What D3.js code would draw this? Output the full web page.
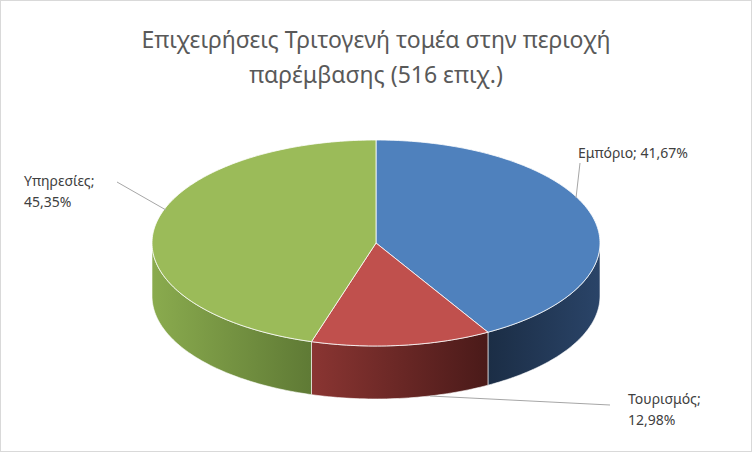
<!DOCTYPE html>
<html><head><meta charset="utf-8">
<script src="https://cdn.jsdelivr.net/npm/d3@7"></script>
<style>body{margin:0;background:#fff}</style>
</head><body>
<svg id="c" width="752" height="452"></svg>
<script>
var categories = ["Εμπόριο", "Τουρισμός", "Υπηρεσίες"];
var values = [41.67, 12.98, 45.35];
var valueLabels = ["41,67%", "12,98%", "45,35%"];
var titleLines = ["Επιχειρήσεις Τριτογενή τομέα στην περιοχή", "παρέμβασης (516 επιχ.)"];

var topColors = ["#4f81bd", "#c0504d", "#9bbb59"];
var sideDark = ["#1b2d45", "#4a1a19", "#5f7a35"];
var sideLight = ["#2a4468", "#8a3532", "#8aab4e"];

var svg = d3.select("#c");
svg.append("rect").attr("x", 0.5).attr("y", 0.5).attr("width", 751).attr("height", 451)
  .attr("fill", "#fff").attr("stroke", "#d9d9d9");

svg.append("text").attr("x", 376).attr("text-anchor", "middle")
  .attr("font-family", "Noto Sans").attr("font-size", 23).attr("fill", "#595959")
  .selectAll("tspan").data(titleLines).enter().append("tspan")
  .attr("x", 376).attr("y", function(d, i) { return 48 + i * 35; }).text(function(d) { return d; });

var cx = 376, cy = 243, rx = 224, ry = 103, depth = 53;
var pie = d3.pie().sort(null).startAngle(0).endAngle(2 * Math.PI);
var arcs = pie(values);

function pt(a, dy) { return [cx + rx * Math.sin(a), cy - ry * Math.cos(a) + (dy || 0)]; }
function arcPts(a0, a1, dy) {
  var n = Math.max(2, Math.ceil(Math.abs(a1 - a0) / 0.02)), s = d3.scaleLinear().domain([0, n]).range([a0, a1]);
  return d3.range(n + 1).map(function(i) { return pt(s(i), dy); });
}
var line = d3.line();

var defs = svg.append("defs");
arcs.forEach(function(d, i) {
  var g = defs.append("linearGradient").attr("id", "g" + i).attr("x1", "0").attr("x2", "1");
  g.append("stop").attr("offset", "0").attr("stop-color", i == 0 ? sideDark[i] : sideLight[i]);
  g.append("stop").attr("offset", "1").attr("stop-color", i == 0 ? sideLight[i] : sideDark[i]);
});

// side walls (front half only)
arcs.forEach(function(d, i) {
  var a0 = Math.max(d.startAngle, Math.PI / 2), a1 = Math.min(d.endAngle, 3 * Math.PI / 2);
  if (a1 <= a0) return;
  var p = arcPts(a0, a1, 0).concat(arcPts(a1, a0, depth));
  svg.append("path").attr("d", line(p) + "Z").attr("fill", "url(#g" + i + ")")
    .attr("stroke", "#fff").attr("stroke-width", 0.6);
});

// top faces
arcs.forEach(function(d, i) {
  var p = [[cx, cy]].concat(arcPts(d.startAngle, d.endAngle, 0));
  svg.append("path").attr("d", line(p) + "Z").attr("fill", topColors[i])
    .attr("stroke", "#fff").attr("stroke-width", 0.8);
});

// labels
var lab = [
  {lines: [categories[0] + "; " + valueLabels[0]], x: 578, y: 158, anchor: "start", from: [576, 198], to: [580, 163]},
  {lines: [categories[1] + ";", valueLabels[1]], x: 628, y: 404, anchor: "start", from: [430, 396], to: [610, 405]},
  {lines: [categories[2] + ";", valueLabels[2]], x: 24, y: 186, anchor: "start", from: [166, 210], to: [117, 182]}
];
lab.forEach(function(l) {
  svg.append("path").attr("d", line([l.from, l.to])).attr("stroke", "#a6a6a6").attr("fill", "none");
  svg.append("text").attr("font-family", "Noto Sans").attr("font-size", 14).attr("fill", "#404040")
    .attr("text-anchor", l.anchor)
    .selectAll("tspan").data(l.lines).enter().append("tspan")
    .attr("x", l.x).attr("y", function(d, i) { return l.y + i * 21; }).text(function(d) { return d; });
});
</script>
</body></html>
